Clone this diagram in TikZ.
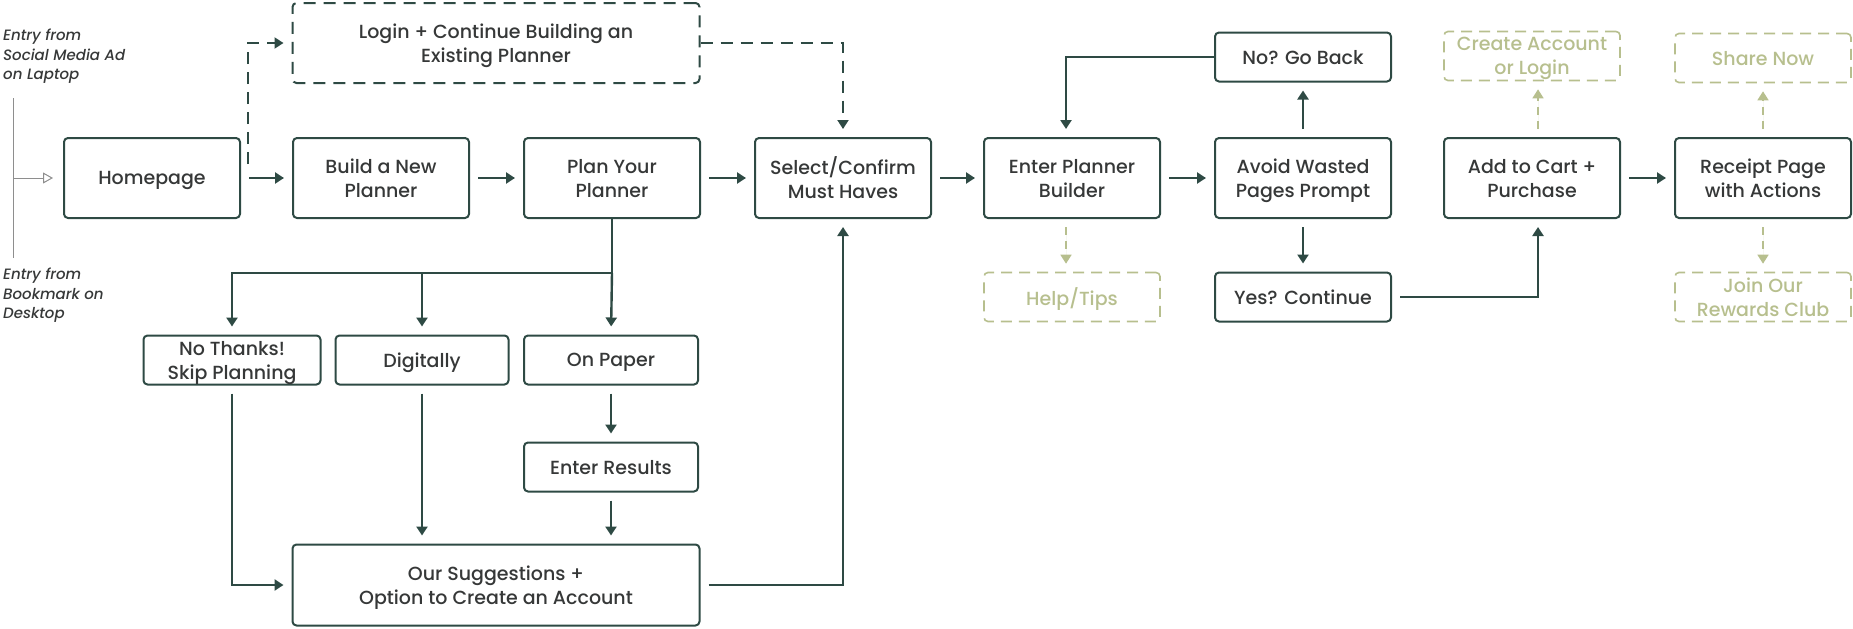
\documentclass[tikz,border=0pt]{standalone}
\usepackage{fontspec}
\setmainfont{Poppins}[UprightFont={* Medium}, ItalicFont={* Medium Italic}]
\usepackage{xcolor}
\usetikzlibrary{arrows.meta}

\definecolor{lineC}{HTML}{2E4A44}
\definecolor{textC}{HTML}{363838}
\definecolor{optC}{HTML}{B7BF8E}
\definecolor{entryC}{HTML}{8E8E8E}

\tikzset{
  stepbox/.style={draw=lineC, line width=2pt, rounded corners=4pt, align=center,
    minimum width=176pt, minimum height=80pt, inner sep=0pt, text=textC,
    text depth=0pt, font=\fontsize{19}{24}\selectfont},
  smallbox/.style={stepbox, minimum height=49pt},
  optbox/.style={smallbox, draw=optC, text=optC, line width=1.6pt,
    dash pattern=on 11pt off 7pt},
  flow/.style={draw=lineC, line width=2.4pt, -{Triangle[length=9pt,width=11pt]},
    shorten >=8pt, shorten <=8pt},
  trunk/.style={draw=lineC, line width=2.4pt},
  dflow/.style={flow, dash pattern=on 12pt off 8pt, line width=2pt},
  optflow/.style={flow, draw=optC, fill=optC, line width=1.5pt,
    dash pattern=on 8pt off 6pt},
  entry/.style={align=left, anchor=north west, inner sep=0pt, text=textC,
    font=\fontsize{15}{19.5}\selectfont\itshape}
}

\begin{document}
\begin{tikzpicture}[x=1pt, y=-1pt]

    \useasboundingbox (0,0) rectangle (1853,629);

    % Entry points
    \node[entry] (entrytop) at (3,29) {Entry from\\Social Media Ad\\on Laptop};
    \node[entry] (entrybot) at (3,268) {Entry from\\Bookmark on\\Desktop};
    \coordinate (entryA) at (13,98);
    \coordinate (entryB) at (13,258);
    \coordinate (entryC) at (13,178);
    \draw[entryC, line width=1pt] (entryA) -- (entryB);

    % Main row
    \node[stepbox] (home)    at (152,178)  {Homepage};
    \node[stepbox] (build)   at (381,178)  {Build a New\\Planner};
    \node[stepbox] (plan)    at (612,178)  {Plan Your\\Planner};
    \node[stepbox] (select)  at (843,178)  {Select/Confirm\\Must Haves};
    \node[stepbox] (enter)   at (1072,178) {Enter Planner\\Builder};
    \node[stepbox] (avoid)   at (1303,178) {Avoid Wasted\\Pages Prompt};
    \node[stepbox] (cart)    at (1532,178) {Add to Cart +\\Purchase};
    \node[stepbox] (receipt) at (1763,178) {Receipt Page\\with Actions};

    % Top row
    \node[stepbox, minimum width=407pt, dash pattern=on 12pt off 8pt]
        (login) at (496,43) {Login + Continue Building an\\Existing Planner};
    \node[smallbox] (goback)  at (1303,57) {No? Go Back};
    \node[optbox]   (account) at (1532,56) {Create Account\\or Login};
    \node[optbox]   (share)   at (1763,58) {Share Now};

    % Lower rows
    \node[optbox]   (tips)    at (1072,297) {Help/Tips};
    \node[smallbox] (yes)     at (1303,297) {Yes? Continue};
    \node[optbox]   (rewards) at (1763,297) {Join Our\\Rewards Club};

    \node[smallbox, minimum width=177pt] (nothanks) at (232,360) {No Thanks!\\Skip Planning};
    \node[smallbox, minimum width=173pt] (digital)  at (422,360) {Digitally};
    \node[smallbox, minimum width=174pt] (paper)    at (611,360) {On Paper};
    \node[smallbox, minimum width=174pt] (results)  at (611,467) {Enter Results};
    \node[stepbox, minimum width=407pt, minimum height=81pt]
        (suggest) at (496,585) {Our Suggestions +\\Option to Create an Account};

    % Entry arrow
    \draw[entryC, line width=1pt, -{Triangle[open,length=10pt,width=11pt]},
        shorten >=10pt] (entryC) -- (home.west);

    % Main flow
    \draw[flow] (home) -- (build);
    \draw[flow] (build) -- (plan);
    \draw[flow] (plan) -- (select);
    \draw[flow] (select) -- (enter);
    \draw[flow] (enter) -- (avoid);
    \draw[flow] (cart) -- (receipt);

    % Existing planner path
    \draw[dflow, shorten <=0pt] ([xshift=7pt,yshift=-27pt]home.north east) |- (login.west);
    \draw[dflow, shorten <=0pt] (login.east) -| (select.north);

    % Planning choices
    \coordinate (split) at (612,273);
    \draw[trunk] (plan.south) -- (split);
    \draw[flow, shorten <=0pt] (split) -| (nothanks.north);
    \draw[flow, shorten <=0pt] (split -| digital) -- (digital.north);
    \draw[flow, shorten <=0pt] (split) -- (paper.north);
    \draw[flow] (nothanks.south) |- (suggest.west);
    \draw[flow] (digital.south) -- (digital.south |- suggest.north);
    \draw[flow] (paper) -- (results);
    \draw[flow] (results) -- (results.south |- suggest.north);
    \draw[flow] (suggest.east) -| (select.south);

    % Wasted pages prompt
    \draw[flow] (avoid) -- (goback);
    \draw[flow] (avoid) -- (yes);
    \draw[flow, shorten <=0pt] (goback.west) -| ([xshift=-6pt]enter.north);
    \draw[flow] (yes.east) -| ([xshift=6pt]cart.south);

    % Optional steps
    \draw[optflow] ([xshift=-6pt]enter.south) -- ([xshift=-6pt]tips.north);
    \draw[optflow] ([xshift=6pt]cart.north) -- ([xshift=6pt]account.south);
    \draw[optflow] (receipt) -- (share);
    \draw[optflow] (receipt) -- (rewards);

\end{tikzpicture}
\end{document}
